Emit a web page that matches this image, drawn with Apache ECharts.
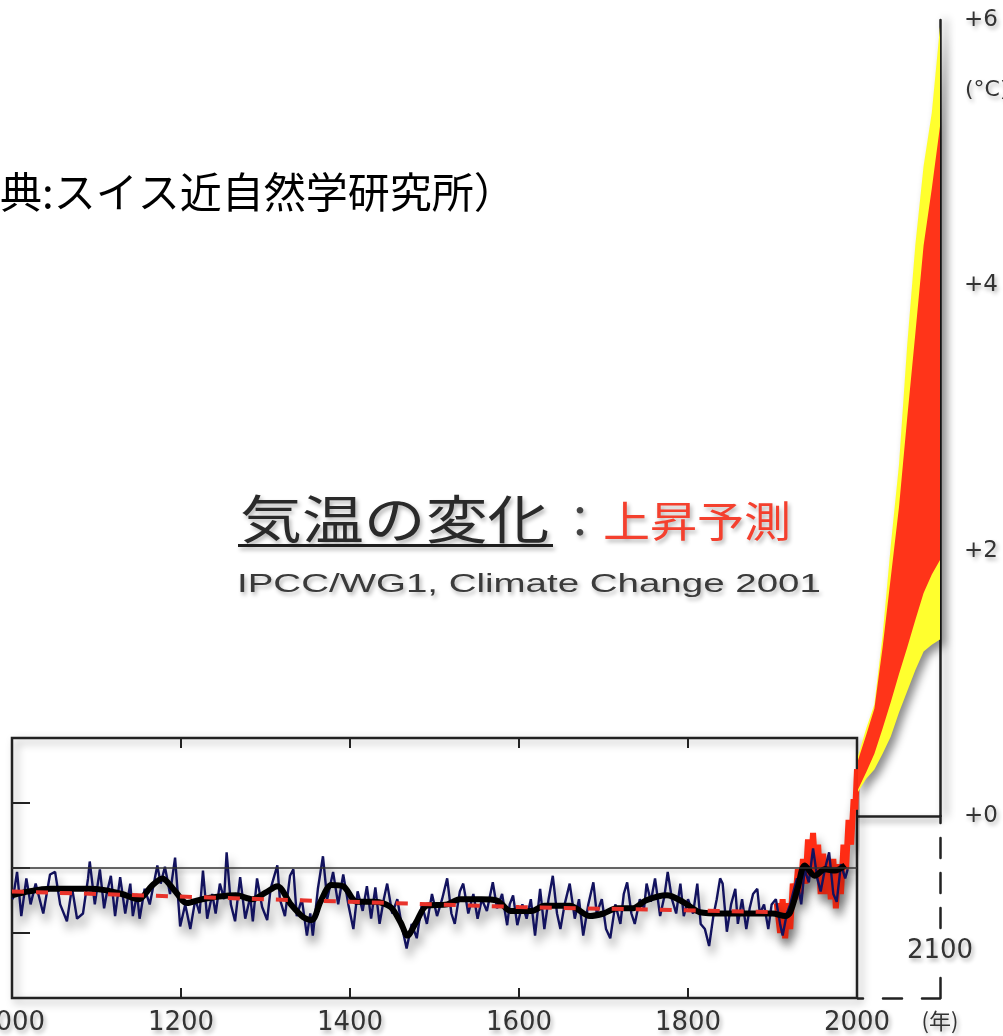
<!DOCTYPE html>
<html lang="ja">
<head>
<meta charset="utf-8">
<title>気温の変化：上昇予測</title>
<script src="https://cdn.jsdelivr.net/npm/echarts@6/dist/echarts.min.js"></script>
<style>
  html, body { margin: 0; padding: 0; background: #ffffff; }
  #chart { width: 1003px; height: 1036px; }
</style>
</head>
<body>
<div id="chart"></div>
<script>
// Reconstructed annual temperature anomaly (°C), years 1000–1989 (blue)
const annualRecord = [
  [1001,-0.24],[1006,-0.03],[1011,-0.37],[1017,-0.08],[1022,-0.28],[1028,-0.12],[1037,-0.35],[1045,-0.05],
  [1051,-0.03],[1057,-0.28],[1065,-0.41],[1071,-0.15],[1077,-0.39],[1084,-0.35],[1090,-0.08],[1092,0.05],
  [1098,-0.28],[1104,-0.01],[1109,-0.31],[1112,-0.20],[1117,-0.06],[1122,-0.37],[1128,-0.07],[1134,-0.35],
  [1140,-0.12],[1143,-0.37],[1148,-0.20],[1151,-0.39],[1157,-0.16],[1163,-0.28],[1172,0.02],[1176,-0.12],
  [1181,0.01],[1187,-0.20],[1193,0.08],[1199,-0.45],[1205,-0.28],[1211,-0.47],[1217,-0.24],[1222,-0.35],
  [1226,-0.02],[1231,-0.39],[1237,-0.20],[1241,-0.35],[1246,-0.12],[1251,-0.24],[1254,0.12],[1259,-0.28],
  [1264,-0.41],[1270,-0.07],[1276,-0.39],[1282,-0.22],[1285,-0.41],[1290,-0.08],[1296,-0.30],[1302,-0.40],
  [1306,-0.16],[1314,0.02],[1317,-0.24],[1323,-0.37],[1329,-0.06],[1333,-0.01],[1337,-0.37],[1343,-0.24],
  [1349,-0.52],[1353,-0.35],[1356,-0.52],[1362,-0.16],[1368,0.09],[1373,-0.24],[1380,-0.03],[1386,-0.28],
  [1392,-0.05],[1398,-0.28],[1404,-0.47],[1409,-0.18],[1415,-0.33],[1420,-0.14],[1425,-0.39],[1430,-0.15],
  [1435,-0.43],[1440,-0.24],[1444,-0.12],[1450,-0.35],[1456,-0.24],[1462,-0.47],[1467,-0.62],[1473,-0.43],
  [1479,-0.54],[1485,-0.28],[1491,-0.43],[1497,-0.20],[1503,-0.37],[1509,-0.24],[1515,-0.08],[1520,-0.35],
  [1524,-0.43],[1530,-0.18],[1534,-0.12],[1540,-0.35],[1546,-0.20],[1551,-0.39],[1556,-0.24],[1562,-0.33],
  [1569,-0.11],[1574,-0.31],[1580,-0.20],[1586,-0.44],[1589,-0.28],[1593,-0.21],[1598,-0.44],[1604,-0.28],
  [1609,-0.39],[1614,-0.24],[1619,-0.52],[1625,-0.16],[1630,-0.47],[1635,-0.24],[1640,-0.06],[1645,-0.35],
  [1649,-0.47],[1654,-0.28],[1660,-0.12],[1666,-0.39],[1671,-0.24],[1676,-0.52],[1682,-0.28],[1688,-0.11],
  [1692,-0.35],[1698,-0.24],[1703,-0.47],[1708,-0.54],[1714,-0.28],[1720,-0.43],[1724,-0.20],[1728,-0.11],
  [1733,-0.35],[1737,-0.43],[1743,-0.24],[1748,-0.31],[1751,-0.12],[1756,-0.26],[1761,-0.08],[1767,-0.37],
  [1772,-0.22],[1776,-0.03],[1781,-0.24],[1786,-0.35],[1791,-0.12],[1795,-0.37],[1800,-0.24],[1806,-0.35],
  [1811,-0.12],[1815,-0.43],[1820,-0.47],[1825,-0.60],[1830,-0.37],[1834,-0.24],[1838,-0.08],[1841,-0.12],
  [1846,-0.49],[1851,-0.28],[1856,-0.16],[1859,-0.43],[1864,-0.24],[1869,-0.47],[1873,-0.31],[1877,-0.20],
  [1882,-0.16],[1885,-0.35],[1890,-0.28],[1895,-0.47],[1899,-0.28],[1904,-0.24],[1909,-0.43],[1912,-0.52],
  [1917,-0.35],[1921,-0.28],[1924,-0.20],[1929,-0.08],[1934,-0.28],[1938,-0.01],[1943,-0.11],[1948,0.15],
  [1953,-0.08],[1957,-0.18],[1962,-0.01],[1967,0.12],[1972,-0.20],[1976,-0.26],[1981,0.03],[1986,-0.08],
  [1989,-0.01]
];

// Smoothed reconstruction (black)
const smoothedRecord = [
  [1000,-0.21],[1020,-0.18],[1045,-0.16],[1065,-0.16],[1090,-0.16],[1110,-0.17],[1130,-0.20],[1150,-0.24],
  [1165,-0.14],[1178,-0.08],[1192,-0.17],[1207,-0.27],[1225,-0.24],[1245,-0.22],[1265,-0.21],[1285,-0.24],
  [1300,-0.19],[1314,-0.14],[1330,-0.28],[1345,-0.38],[1355,-0.40],[1365,-0.26],[1378,-0.13],[1392,-0.14],
  [1408,-0.26],[1430,-0.26],[1448,-0.30],[1460,-0.42],[1468,-0.52],[1478,-0.42],[1491,-0.29],[1515,-0.28],
  [1530,-0.24],[1555,-0.24],[1574,-0.25],[1590,-0.33],[1615,-0.33],[1630,-0.29],[1660,-0.29],[1684,-0.37],
  [1700,-0.35],[1716,-0.31],[1735,-0.31],[1750,-0.25],[1775,-0.21],[1794,-0.26],[1814,-0.34],[1840,-0.35],
  [1870,-0.35],[1900,-0.35],[1915,-0.37],[1921,-0.34],[1930,-0.15],[1938,0.02],[1950,-0.06],[1962,-0.01],
  [1974,-0.02],[1986,0.02]
];

// Long-term trend of the reconstruction (red dashed)
const trendLine = [[1000,-0.18],[1300,-0.24],[1600,-0.30],[1905,-0.34]];

// Thermometer record (red)
const instrumentalRecord = [
  [1905,-0.27],[1909,-0.50],[1912,-0.24],[1915,-0.54],[1918,-0.27],[1921,-0.47],[1924,-0.12],[1927,-0.24],
  [1930,-0.01],[1933,-0.20],[1936,0.07],[1939,-0.12],[1942,0.22],[1945,-0.01],[1948,0.27],[1951,-0.05],
  [1954,0.18],[1957,-0.20],[1960,0.11],[1963,-0.20],[1966,0.07],[1969,-0.24],[1972,0.07],[1975,-0.31],
  [1978,0.03],[1981,-0.20],[1984,0.18],[1987,-0.01],[1990,0.37],[1993,0.18],[1996,0.53],[1998,0.45],
  [2000,0.76]
];

// Projected warming 2000–2100 (°C): outer envelope (yellow) and inner range (red)
const projYears   = [2000, 2010, 2020, 2030, 2040, 2050, 2060, 2070, 2080, 2090, 2100];
const outerLow    = [0.18, 0.28, 0.35, 0.47, 0.60, 0.78, 0.94, 1.10, 1.24, 1.29, 1.33];
const innerLow    = [0.20, 0.33, 0.47, 0.66, 0.86, 1.07, 1.27, 1.48, 1.68, 1.82, 1.93];
const innerHigh   = [0.42, 0.61, 0.81, 1.27, 1.80, 2.33, 3.00, 3.64, 4.30, 4.73, 5.20];
const outerHigh   = [0.45, 0.66, 0.84, 1.36, 2.04, 2.65, 3.55, 4.31, 4.90, 5.30, 5.95];

const sourceNote = '典:スイス近自然学研究所）';
const titleMain  = '気温の変化';
const titleSub   = '上昇予測';
const citation   = 'IPCC/WG1, Climate Change 2001';

const INK = '#222222';
const SHADOW = 'rgba(0,0,0,0.45)';
const labelShadow = { textShadowColor: 'rgba(0,0,0,0.30)', textShadowBlur: 4, textShadowOffsetX: 2, textShadowOffsetY: 3 };
const dataShadow = { shadowColor: SHADOW, shadowBlur: 10, shadowOffsetX: 3, shadowOffsetY: 8 };

// Filled band between two projection curves, placed through the axis scales
function bandSeries(name, low, high, color, shadow, z) {
  return {
    name, type: 'custom', xAxisIndex: 2, yAxisIndex: 1, z, silent: true,
    data: [[projYears[0], low[0]]],
    renderItem: (params, api) => {
      const upper = projYears.map((y, i) => api.coord([y, high[i]]));
      const lower = projYears.map((y, i) => api.coord([y, low[i]])).reverse();
      return {
        type: 'polygon',
        shape: { points: upper.concat(lower) },
        style: Object.assign({ fill: color }, shadow || {})
      };
    }
  };
}

const chart = echarts.init(document.getElementById('chart'), null, { renderer: 'canvas' });

chart.setOption({
  animation: false,
  backgroundColor: '#ffffff',
  grid: [
    { // 1000–2000 record
      left: 12, top: 738, width: 845, height: 260, containLabel: false, outerBoundsMode: 'none',
      show: true, borderColor: INK, borderWidth: 2.5, backgroundColor: 'transparent',
      shadowColor: 'rgba(0,0,0,0.35)', shadowBlur: 8, shadowOffsetX: 4, shadowOffsetY: 4
    },
    { // 2000–2100 projection
      left: 858, top: 20, width: 82, height: 796, containLabel: false, outerBoundsMode: 'none'
    },
    { // 2100 guide down to the time axis
      left: 858, top: 816, width: 82, height: 182, containLabel: false, outerBoundsMode: 'none'
    }
  ],
  xAxis: [
    {
      gridIndex: 0, type: 'value', min: 1000, max: 2000, interval: 200, position: 'bottom',
      axisLine: { show: false, onZero: false },
      axisTick: { inside: true, length: 10, lineStyle: { color: INK, width: 2 } },
      axisLabel: { margin: 12, fontSize: 26, fontFamily: 'DejaVu Sans', color: '#333', ...labelShadow,
                   showMinLabel: true, showMaxLabel: true, formatter: v => String(v) },
      splitLine: { show: false }
    },
    {
      gridIndex: 0, type: 'value', min: 1000, max: 2000, interval: 200, position: 'top',
      axisLine: { show: false, onZero: false },
      axisTick: { inside: true, length: 10, lineStyle: { color: INK, width: 2 } },
      axisLabel: { show: false }, splitLine: { show: false }
    },
    {
      gridIndex: 1, type: 'value', min: 2000, max: 2100, position: 'bottom',
      axisLine: { show: true, onZero: false, lineStyle: { color: INK, width: 2.5, shadowColor: SHADOW, shadowBlur: 6, shadowOffsetY: 4 } },
      axisTick: { show: false }, axisLabel: { show: false }, splitLine: { show: false }
    },
    {
      gridIndex: 2, type: 'value', min: 2000, max: 2100, interval: 100, position: 'bottom',
      axisLine: { show: true, onZero: false, lineStyle: { color: INK, width: 2.5, type: [19, 20], dashOffset: 14 } },
      axisTick: { show: false },
      axisLabel: {
        margin: 12, fontSize: 22, fontFamily: 'Noto Sans CJK JP', color: '#333', ...labelShadow,
        showMinLabel: false, showMaxLabel: true,
        formatter: v => (v === 2100 ? '(年)' : '')
      },
      splitLine: { show: false }
    }
  ],
  yAxis: [
    {
      gridIndex: 0, type: 'value', min: -1, max: 1, interval: 0.5, position: 'left',
      axisLine: { show: false, onZero: false },
      axisTick: { inside: true, length: 18, lineStyle: { color: INK, width: 2 } },
      axisLabel: { show: false }, splitLine: { show: false }
    },
    {
      gridIndex: 1, type: 'value', min: 0, max: 6, interval: 2, position: 'right',
      axisLine: { show: true, onZero: false, lineStyle: { color: INK, width: 2.5, shadowColor: SHADOW, shadowBlur: 8, shadowOffsetX: 5 } },
      axisTick: { show: false },
      axisLabel: { margin: 24, fontSize: 23, fontFamily: 'DejaVu Sans', color: '#333', ...labelShadow, formatter: v => '+' + v },
      splitLine: { show: false }
    },
    {
      gridIndex: 2, type: 'value', min: 0, max: 1, position: 'right',
      axisLine: { show: true, onZero: false, lineStyle: { color: INK, width: 2.5, type: [20, 15] } },
      axisTick: { show: false }, axisLabel: { show: false }, splitLine: { show: false }
    }
  ],
  series: [
    {
      name: 'instrumental', type: 'line', xAxisIndex: 0, yAxisIndex: 0, z: 2,
      data: instrumentalRecord, symbol: 'none',
      lineStyle: { color: '#ff2c14', width: 6, ...dataShadow },
      markLine: {
        silent: true, symbol: 'none', label: { show: false },
        lineStyle: { color: '#333', width: 1.6, type: 'solid', shadowColor: 'rgba(0,0,0,0.3)', shadowBlur: 4, shadowOffsetY: 3 },
        data: [{ yAxis: 0 }]
      }
    },
    {
      name: 'annual', type: 'line', xAxisIndex: 0, yAxisIndex: 0, z: 3,
      data: annualRecord, symbol: 'none',
      lineStyle: { color: '#12125e', width: 2.4, ...dataShadow }
    },
    {
      name: 'smoothed', type: 'line', xAxisIndex: 0, yAxisIndex: 0, z: 4,
      data: smoothedRecord, symbol: 'none', smooth: 0.3,
      lineStyle: { color: '#000000', width: 6 }
    },
    {
      name: 'trend', type: 'line', xAxisIndex: 0, yAxisIndex: 0, z: 5,
      data: trendLine, symbol: 'none',
      lineStyle: { color: '#e8322a', width: 4, type: [12, 12] }
    },
    bandSeries('outer', outerLow, outerHigh, '#ffff2e',
               { shadowColor: 'rgba(0,0,0,0.45)', shadowBlur: 8, shadowOffsetX: 5, shadowOffsetY: 5 }, 6),
    bandSeries('inner', innerLow, innerHigh, '#ff3419', null, 7)
  ],
  graphic: [
    {
      type: 'text', x: 0, y: 192, z: 10,
      style: { text: sourceNote, fontSize: 42, fontFamily: 'Noto Sans CJK JP', fill: '#000', textVerticalAlign: 'middle' }
    },
    {
      type: 'text', x: 240, y: 519, scaleX: 1.19, z: 10,
      style: { text: titleMain, fontSize: 52, fontFamily: 'Noto Sans CJK JP', fill: '#2a2a2a', textVerticalAlign: 'middle', ...labelShadow }
    },
    {
      type: 'rect', z: 10,
      shape: { x: 238, y: 544, width: 315, height: 3 },
      style: { fill: '#1e1e1e', shadowColor: 'rgba(0,0,0,0.3)', shadowBlur: 4, shadowOffsetX: 2, shadowOffsetY: 3 }
    },
    {
      type: 'text', x: 580, y: 521, z: 10,
      style: { text: '：', fontSize: 44, fontFamily: 'Noto Sans CJK JP', fill: '#444', textAlign: 'center', textVerticalAlign: 'middle', ...labelShadow }
    },
    {
      type: 'text', x: 603, y: 521, scaleX: 1.12, z: 10,
      style: { text: titleSub, fontSize: 42, fontFamily: 'Noto Sans CJK JP', fill: '#f4402e', textVerticalAlign: 'middle', ...labelShadow }
    },
    {
      type: 'text', x: 237, y: 585, scaleX: 1.48, z: 10,
      style: { text: citation, fontSize: 26, fontFamily: 'Liberation Sans', fill: '#3a3a3a', textVerticalAlign: 'middle', ...labelShadow }
    },
    {
      type: 'text', x: 940, y: 951, z: 10,
      style: { text: '2100', fontSize: 26, fontFamily: 'DejaVu Sans', fill: '#333', textAlign: 'center', textVerticalAlign: 'middle',
               backgroundColor: '#ffffff', padding: [6, 2], ...labelShadow }
    },
    {
      type: 'text', x: 965, y: 90, z: 10,
      style: { text: '(°C)', fontSize: 22, fontFamily: 'DejaVu Sans', fill: '#333', textVerticalAlign: 'middle', ...labelShadow }
    }
  ]
});
</script>
</body>
</html>
